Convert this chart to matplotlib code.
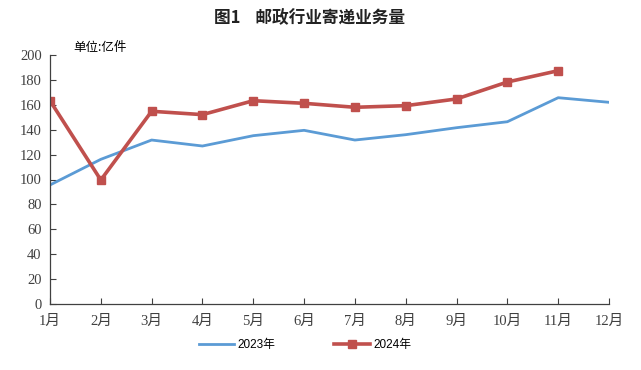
import matplotlib.pyplot as plt
import numpy as np

plt.rcParams['font.family'] = ['Liberation Serif', 'Noto Sans CJK SC']

months = ['1月', '2月', '3月', '4月', '5月', '6月', '7月', '8月', '9月', '10月', '11月', '12月']
v2023 = [95.6, 116.2, 131.7, 126.9, 135.2, 139.5, 131.7, 136.0, 141.6, 146.4, 165.7, 162.0]
v2024 = [163.3, 99.6, 154.8, 152.1, 163.3, 161.2, 158.0, 159.3, 164.7, 178.3, 187.4]
yticks = list(range(0, 201, 20))

fig = plt.figure(figsize=(6.41, 3.70), dpi=100)
ax = fig.add_axes([50/641, 1-304/370, (609-50)/641, (304-55)/370])

x = np.arange(len(months))
ax.plot(x, v2023, color='#5B9BD5', lw=2, label='2023年')
ax.plot(x[:len(v2024)], v2024, color='#C0504D', lw=2.6, marker='s', ms=6, label='2024年')

ax.set_xlim(0, 11)
ax.set_ylim(0, 200)
ax.set_xticks(x)
ax.set_xticklabels(months)
ax.set_yticks(yticks)
ax.tick_params(direction='in', length=4, labelsize=10.5, width=0.8, colors='#404040')
ax.tick_params(axis='x', pad=8)
ax.tick_params(axis='y', pad=6)
for s in ['top', 'right']:
    ax.spines[s].set_visible(False)
for s in ['left', 'bottom']:
    ax.spines[s].set_color('#404040')
    ax.spines[s].set_linewidth(0.9)

fig.text(310/641, 1-18/370, '图1    邮政行业寄递业务量', ha='center', va='center',
         fontsize=12, fontweight='bold', color='#222222',
         family=['Noto Sans CJK SC', 'DejaVu Sans'])
fig.text(73/641, 1-47/370, '单位:亿件', ha='left', va='center', fontsize=9,
         family=['Noto Sans CJK SC', 'DejaVu Sans'])

leg = fig.legend(loc='center', bbox_to_anchor=(305/641, 1-345/370), ncol=2, frameon=False,
                 handlelength=3, columnspacing=5, handletextpad=0.3,
                 prop={'family': ['Liberation Sans', 'Noto Sans CJK SC'], 'size': 8.5})

fig.savefig('out.png', dpi=100)
